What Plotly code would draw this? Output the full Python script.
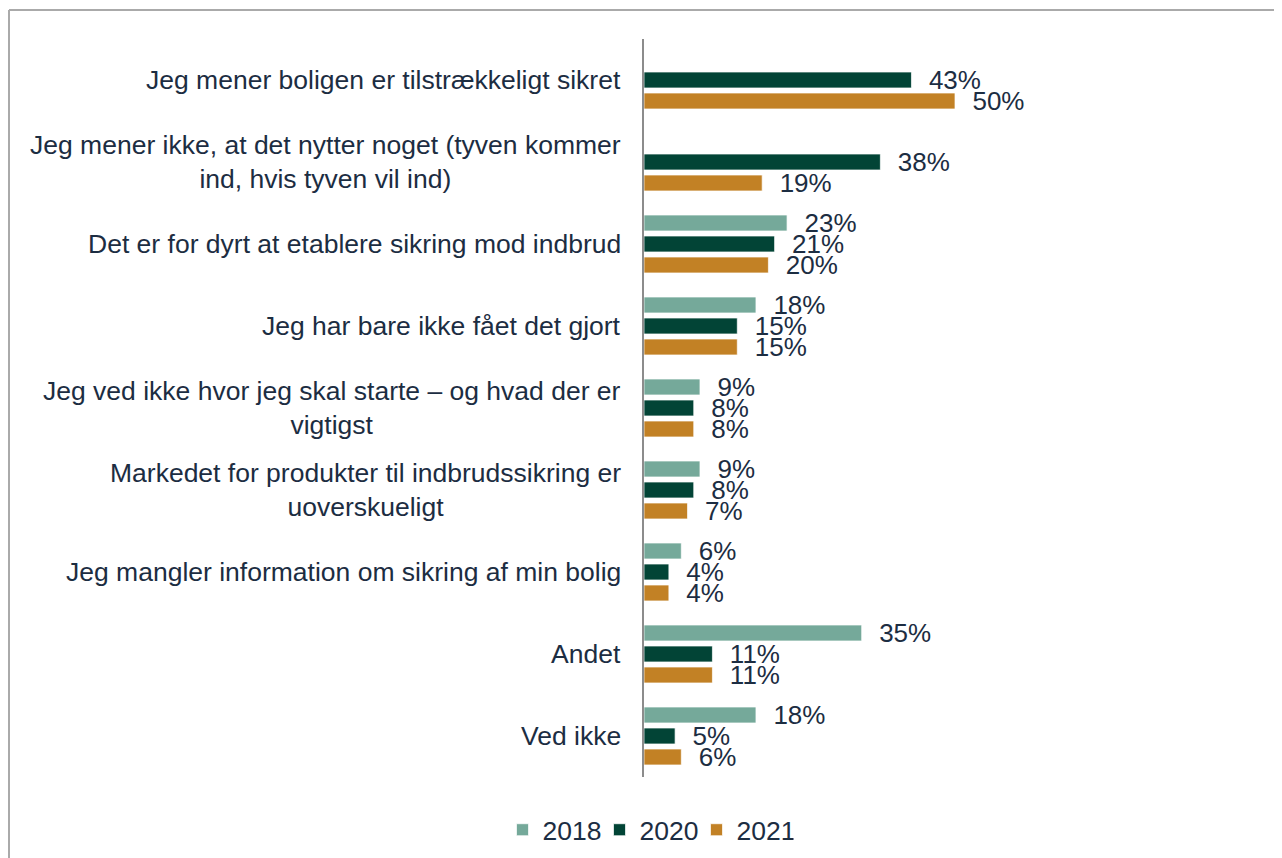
import plotly.graph_objects as go

categories = [
    "Jeg mener boligen er tilstrækkeligt sikret",
    "Jeg mener ikke, at det nytter noget (tyven kommer<br>ind, hvis tyven vil ind)",
    "Det er for dyrt at etablere sikring mod indbrud",
    "Jeg har bare ikke fået det gjort",
    "Jeg ved ikke hvor jeg skal starte – og hvad der er<br>vigtigst",
    "Markedet for produkter til indbrudssikring er<br>uoverskueligt",
    "Jeg mangler information om sikring af min bolig",
    "Andet",
    "Ved ikke",
]
v2018 = [None, None, 23, 18, 9, 9, 6, 35, 18]
v2020 = [43, 38, 21, 15, 8, 8, 4, 11, 5]
v2021 = [50, 19, 20, 15, 8, 7, 4, 11, 6]
series_names = ["2018", "2020", "2021"]
colors = ["#75A99A", "#024436", "#C28125"]

TEXT = "#1C2D42"
FONT = "Liberation Sans, Arial, sans-serif"

fig = go.Figure()
for name, vals, col in zip(series_names, [v2018, v2020, v2021], colors):
    fig.add_trace(go.Bar(
        y=categories, x=vals, name=name, orientation="h",
        marker=dict(color=col, line=dict(color="rgba(255,255,255,0.7)", width=1)),
        text=[None if v is None else f"\u00a0\u00a0{v}%" for v in vals],
        textposition="outside", textfont=dict(size=26, color=TEXT, family=FONT),
        constraintext="none", cliponaxis=False, hoverinfo="skip",
    ))

# page is offset by 8px body margin
W, H = 1274, 850
L, R, T, B = 636, 16, 31, 81
pw, ph = W - L - R, H - T - B

def px_x(p):
    return (p - L) / pw

def px_y(p):
    return (H - B - p) / ph

annotations = [
    dict(x=0, xref="paper", y=c, yref="y", text=c, showarrow=False,
         xanchor="right", yanchor="middle", xshift=-21, align="center",
         font=dict(size=26.5, color=TEXT, family=FONT))
    for c in categories
]

shapes = [
    dict(type="line", xref="paper", yref="paper", x0=px_x(1), x1=px_x(1300),
         y0=px_y(2), y1=px_y(2), line=dict(color="#AAAAAA", width=2)),
    dict(type="line", xref="paper", yref="paper", x0=px_x(1), x1=px_x(1),
         y0=px_y(2), y1=px_y(900), line=dict(color="#AAAAAA", width=2)),
]

fig.update_layout(
    width=W, height=H,
    margin=dict(l=L, r=R, t=T, b=B, pad=0, autoexpand=False),
    paper_bgcolor="white", plot_bgcolor="white",
    barmode="group", bargap=0.232, bargroupgap=0.24,
    font=dict(family=FONT, size=26, color=TEXT),
    xaxis=dict(range=[0, 100], showgrid=False, showticklabels=False,
               zeroline=False, showline=False, fixedrange=True),
    yaxis=dict(autorange="reversed", showticklabels=False, showgrid=False,
               showline=True, linecolor="#8C8C8C", linewidth=2, ticks="",
               zeroline=False),
    legend=dict(orientation="h", x=px_x(640), xanchor="center",
                y=px_y(822), yanchor="middle",
                font=dict(size=26.5, color=TEXT, family=FONT),
                itemwidth=30, traceorder="normal",
                entrywidth=52, entrywidthmode="pixels"),
    annotations=annotations,
    shapes=shapes,
    showlegend=True,
)

fig.write_html("out.html")
